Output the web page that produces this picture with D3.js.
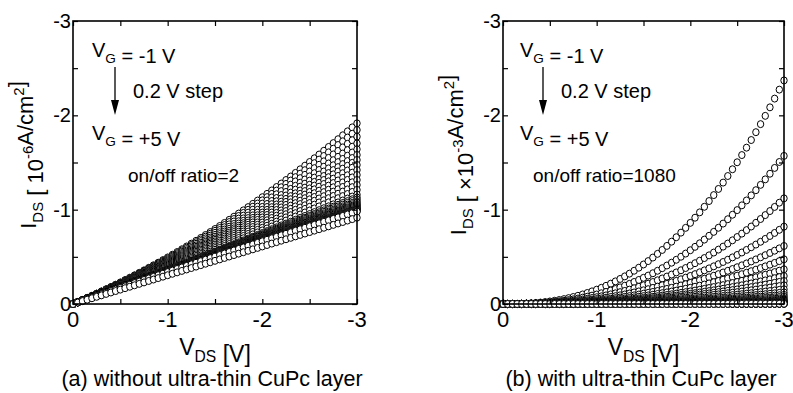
<!DOCTYPE html>
<html>
<head>
<meta charset="utf-8">
<script src="https://cdn.jsdelivr.net/npm/d3@7"></script>
<style>
  body { margin: 0; background: #fff; }
  svg text { font-family: "Liberation Sans", Arial, sans-serif; fill: #000; }
</style>
</head>
<body>
<svg id="chart" width="793" height="393"></svg>
<script>
// drain voltage sweep, 0 to -3 V in 0.05 V steps (61 points per curve)
const vdsSweep = d3.range(0, 61).map(i => -i * 0.05)

// gate voltages, -1 V to +5 V in 0.2 V steps (31 curves)
const gateVoltages = d3.range(0, 31).map(i => -1 + i * 0.2)

// (a) current at VDS = -3 V for each VG, in 1e-6 A/cm2 (top curve first)
const endCurrentA = [1.915, 1.845, 1.774, 1.703, 1.640, 1.580, 1.527, 1.474, 1.420, 1.368,
    1.315, 1.262, 1.210, 1.160, 1.130, 1.110, 1.090, 1.075, 1.060, 1.050,
    1.040, 1.030, 1.020, 1.010, 1.005, 1.000, 0.995, 0.990, 0.985, 0.980, 0.915]
// (a) linear part of each curve (rest is quadratic bowing)
const linearPartA = [0.66, 0.68, 0.70, 0.72, 0.74, 0.76, 0.78, 0.80, 0.82, 0.84,
    0.86, 0.88, 0.90, 0.92, 0.95, 0.97, 0.99, 1.00, 1.01, 1.02,
    1.03, 1.03, 1.04, 1.04, 1.05, 1.05, 1.05, 1.05, 1.05, 1.05, 1.00]

// (b) current at VDS = -3 V for each VG, in 1e-3 A/cm2
const endCurrentB = [2.37, 1.57, 1.12, 0.82, 0.615, 0.474, 0.368, 0.297, 0.244, 0.198,
    0.156, 0.123, 0.097, 0.077, 0.061, 0.048, 0.038, 0.030, 0.024, 0.019,
    0.015, 0.012, 0.0095, 0.0076, 0.0061, 0.0049, 0.0040, 0.0033, 0.0028, 0.0025, 0.0022]
// (b) power of |VDS| each curve follows
const powerB = 2.5

const xTicks = [0, -1, -2, -3]
const yTicks = [0, -1, -2, -3]
const minorTicks = [-0.5, -1.5, -2.5]

const svg = d3.select("#chart")

function curvesA() {
    return gateVoltages.map((vg, k) => vdsSweep.map(v => {
        let t = v / -3
        return {vds: v, ids: -endCurrentA[k] * (linearPartA[k] * t + (1 - linearPartA[k]) * t * t)}
    }))
}

function curvesB() {
    return gateVoltages.map((vg, k) => vdsSweep.map(v => {
        let t = v / -3
        return {vds: v, ids: -endCurrentB[k] * Math.pow(t, powerB)}
    }))
}

// text with sub/superscripts: parts = [[string, "sub"|"sup"|null], ...]
function richText(sel, parts, size) {
    parts.forEach(function(p) {
        let small = p[1] !== null
        let ts = sel.append("tspan")
            .attr("font-size", small ? size * 0.68 : size)
            .text(p[0])
        if (p[1] === "sub") ts.attr("dy", size * 0.3)
        if (p[1] === "sup") ts.attr("dy", -size * 0.42)
        // come back to the baseline for the next part
        if (p[1] === "sub") sel.append("tspan").attr("dy", -size * 0.3).attr("font-size", size).text("")
        if (p[1] === "sup") sel.append("tspan").attr("dy", size * 0.42).attr("font-size", size).text("")
    })
}

function drawPanel(opt) {
    let g = svg.append("g")
    let x = d3.scaleLinear().domain([0, -3]).range([opt.left, opt.right])
    let y = d3.scaleLinear().domain([0, -3]).range([opt.bottom, opt.top])

    // markers, last gate voltage drawn on top
    opt.curves.forEach(function(curve) {
        g.append("g").selectAll("ellipse")
            .data(curve)
            .join("ellipse")
            .attr("cx", d => x(d.vds))
            .attr("cy", d => y(d.ids))
            .attr("rx", 3.2)
            .attr("ry", 3.5)
            .attr("fill", "#fff")
            .attr("stroke", "#000")
            .attr("stroke-width", 1)
    })

    // frame with inward ticks on all four sides
    let tickLen = 5
    let allX = xTicks.concat(minorTicks)
    let allY = yTicks.concat(minorTicks)
    g.append("g").call(d3.axisBottom(x).tickValues(allX).tickSize(-tickLen).tickFormat(""))
        .attr("transform", `translate(0,${opt.bottom})`)
    g.append("g").call(d3.axisTop(x).tickValues(allX).tickSize(-tickLen).tickFormat(""))
        .attr("transform", `translate(0,${opt.top})`)
    g.append("g").call(d3.axisLeft(y).tickValues(allY).tickSize(-tickLen).tickFormat(""))
        .attr("transform", `translate(${opt.left},0)`)
    g.append("g").call(d3.axisRight(y).tickValues(allY).tickSize(-tickLen).tickFormat(""))
        .attr("transform", `translate(${opt.right},0)`)
    g.selectAll(".domain").remove()
    g.selectAll(".tick line").attr("stroke", "#000").attr("stroke-width", 1.2)
    g.append("rect")
        .attr("x", opt.left).attr("y", opt.top)
        .attr("width", opt.right - opt.left).attr("height", opt.bottom - opt.top)
        .attr("fill", "none").attr("stroke", "#000").attr("stroke-width", 1.6)

    // tick labels
    yTicks.forEach(function(v) {
        g.append("text")
            .attr("x", opt.left - 2)
            .attr("y", y(v) + 7)
            .attr("text-anchor", "end")
            .attr("font-size", 20)
            .text(v === 0 ? "0" : "-" + Math.abs(v))
    })
    xTicks.forEach(function(v) {
        g.append("text")
            .attr("x", x(v))
            .attr("y", opt.bottom + 23)
            .attr("text-anchor", "middle")
            .attr("font-size", 22)
            .text(v === 0 ? "0" : "-" + Math.abs(v))
    })

    // axis titles
    let cx = (opt.left + opt.right) / 2
    richText(g.append("text").attr("x", cx).attr("y", 355).attr("text-anchor", "middle"),
        [["V", null], ["DS", "sub"], [" [V]", null]], 23)
    richText(g.append("text")
            .attr("transform", `translate(${opt.left - 37},155) rotate(-90)`)
            .attr("text-anchor", "middle"),
        [["I", null], ["DS", "sub"], [" [ " + opt.times + "10", null], [opt.exp, "sup"],
         ["A/cm", null], ["2", "sup"], ["]", null]], 22)

    // annotations
    let ax = opt.left + opt.noteDx
    richText(g.append("text").attr("x", ax).attr("y", 57),
        [["V", null], ["G", "sub"], [" = -1 V", null]], 20)
    richText(g.append("text").attr("x", ax).attr("y", 140),
        [["V", null], ["G", "sub"], [" = +5 V", null]], 20)
    g.append("line")
        .attr("x1", ax + 23).attr("x2", ax + 23)
        .attr("y1", 67).attr("y2", 102)
        .attr("stroke", "#000").attr("stroke-width", 1.3)
    g.append("path")
        .attr("d", `M${ax + 19},100 L${ax + 27},100 L${ax + 23},115 Z`)
        .attr("fill", "#000")
    g.append("text").attr("x", ax + 41).attr("y", 98).attr("font-size", 20).text("0.2 V step")
    g.append("text").attr("x", opt.left + opt.ratioDx).attr("y", 182).attr("font-size", 19)
        .text(opt.ratio)

    // caption
    g.append("text").attr("x", opt.captionX).attr("y", 386).attr("text-anchor", "middle")
        .attr("font-size", 21.5).text(opt.caption)
}

drawPanel({
    left: 73, right: 357, top: 21, bottom: 304,
    curves: curvesA(), times: "   ", exp: "-6",
    noteDx: 19, ratioDx: 55, ratio: "on/off ratio=2",
    captionX: 212, caption: "(a) without ultra-thin CuPc layer"
})
drawPanel({
    left: 503, right: 784, top: 21, bottom: 304,
    curves: curvesB(), times: "\u00d7", exp: "-3",
    noteDx: 17, ratioDx: 30, ratio: "on/off ratio=1080",
    captionX: 641, caption: "(b) with ultra-thin CuPc layer"
})
</script>
</body>
</html>
